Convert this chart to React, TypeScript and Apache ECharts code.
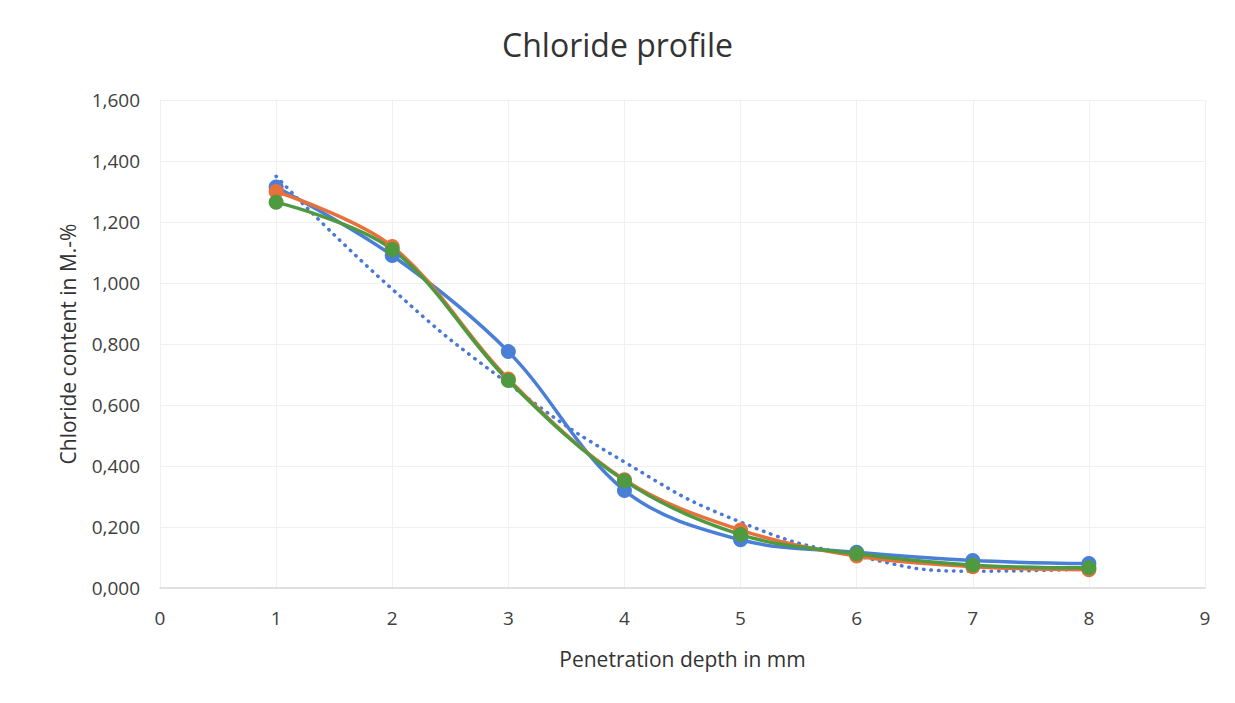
import React, { useEffect, useRef } from "react";
import * as echarts from "echarts";

const depths = [1, 2, 3, 4, 5, 6, 7, 8];
const seriesBlue = [1.315, 1.09, 0.775, 0.32, 0.158, 0.117, 0.09, 0.08];
const seriesOrange = [1.3, 1.12, 0.685, 0.355, 0.19, 0.105, 0.07, 0.06];
const seriesGreen = [1.265, 1.11, 0.68, 0.352, 0.175, 0.112, 0.075, 0.066];
const trendBlue = [1.35, 0.98, 0.67, 0.413, 0.216, 0.105, 0.055, 0.062];

const titleText = "Chloride profile";
const xName = "Penetration depth in mm";
const yName = "Chloride content in M.-%";

const FONT = "'Open Sans', 'Noto Sans', sans-serif";

const pairs = (ys: number[]) => depths.map((x, i) => [x, ys[i]]);

export default function App() {
  const ref = useRef<HTMLDivElement>(null);
  useEffect(() => {
    if (!ref.current) return;
    const chart = echarts.init(ref.current, null, { renderer: "svg" });
    const lineSeries = (name: string, color: string, ys: number[]) => ({
      name,
      type: "line",
      data: pairs(ys),
      smooth: 0.35,
      symbol: "circle",
      symbolSize: 15,
      lineStyle: { color, width: 3.5 },
      itemStyle: { color },
    });
    chart.setOption({
      animation: false,
      backgroundColor: "#ffffff",
      title: {
        text: titleText,
        left: "center",
        top: 23,
        textStyle: { fontFamily: FONT, fontSize: 32, fontWeight: "normal", color: "#333333" },
      },
      grid: { left: 160, right: 30, top: 100, bottom: 115 },
      xAxis: {
        type: "value",
        min: 0,
        max: 9,
        interval: 1,
        name: xName,
        nameLocation: "middle",
        nameGap: 60,
        nameTextStyle: { fontFamily: FONT, fontSize: 21, color: "#333333" },
        axisLine: { show: true, lineStyle: { color: "#d9d9d9", width: 1.5 } },
        axisTick: { show: false },
        axisLabel: { fontFamily: FONT, fontSize: 19, color: "#404040", margin: 20 },
        splitLine: { show: true, lineStyle: { color: "#f0f0f0" } },
      },
      yAxis: {
        type: "value",
        min: 0,
        max: 1.6,
        interval: 0.2,
        name: yName,
        nameLocation: "middle",
        nameGap: 82,
        nameTextStyle: { fontFamily: FONT, fontSize: 21, color: "#333333" },
        axisLine: { show: false },
        axisTick: { show: false },
        axisLabel: {
          fontFamily: FONT,
          fontSize: 19,
          color: "#404040",
          margin: 20,
          formatter: (v: number) => v.toFixed(3).replace(".", ","),
        },
        splitLine: { show: true, lineStyle: { color: "#f0f0f0" } },
      },
      series: [
        {
          name: "Trend",
          type: "line",
          data: pairs(trendBlue),
          smooth: 0.5,
          symbol: "none",
          lineStyle: { color: "#4a78d6", width: 3.5, type: [0.5, 7], cap: "round" },
          z: 1,
        },
        lineSeries("Sample 1", "#4a7fd8", seriesBlue),
        lineSeries("Sample 2", "#e8703a", seriesOrange),
        lineSeries("Sample 3", "#4f9a40", seriesGreen),
      ],
    });
    return () => chart.dispose();
  }, []);
  return (
    <div
      ref={ref}
      style={{ position: "fixed", left: 0, top: 0, width: 1235, height: 703 }}
    />
  );
}
